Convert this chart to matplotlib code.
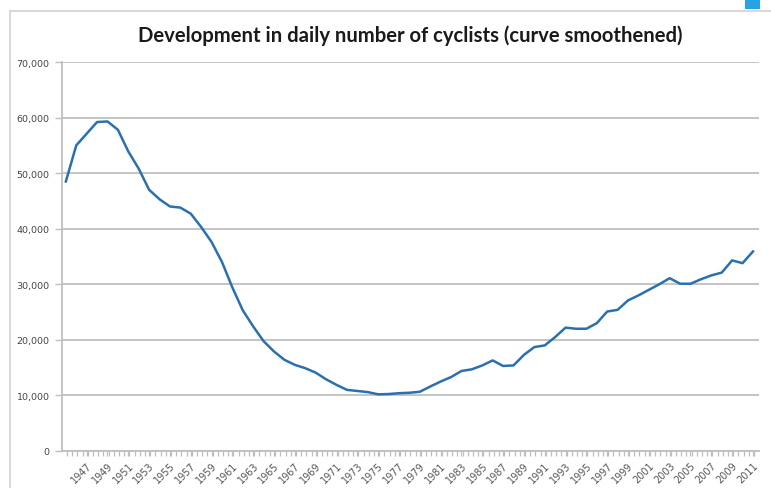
import numpy as np
import matplotlib
matplotlib.use("Agg")
import matplotlib.pyplot as plt
from matplotlib.patches import Rectangle
from matplotlib.lines import Line2D
from matplotlib.ticker import FuncFormatter, MultipleLocator

years = list(range(1945, 2012))
cyclists = [
    48500, 55000, 57100, 59200, 59300, 57800, 53900, 50800, 47000, 45300,  # 1945-1954
    44000, 43800, 42700, 40300, 37600, 34000, 29400, 25300, 22400, 19750,  # 1955-1964
    17900, 16400, 15500, 14900, 14100, 12900, 11900, 11000, 10800, 10600,  # 1965-1974
    10200, 10250, 10400, 10480, 10660, 11600, 12500, 13300, 14400, 14700,  # 1975-1984
    15400, 16300, 15300, 15400, 17300, 18700, 19000, 20500, 22200, 22000,  # 1985-1994
    22000, 23000, 25100, 25400, 27100, 28000, 29000, 30000, 31100, 30100,  # 1995-2004
    30100, 30900, 31600, 32100, 34300, 33800, 35900,                        # 2005-2011
]
label_years = list(range(1947, 2012, 2))
title = "Development in daily number of cyclists (curve smoothened)"

W, H = 771, 489
fig = plt.figure(figsize=(W / 100, H / 100), dpi=100)
fig.patch.set_facecolor("white")

# outer chart frame
frame_col = "#d6d6d6"
fig.add_artist(Line2D([10 / W, 10 / W], [0, 1 - 12 / H], transform=fig.transFigure, color=frame_col, lw=1.3))
fig.add_artist(Line2D([10 / W, 1], [1 - 12 / H, 1 - 12 / H], transform=fig.transFigure, color=frame_col, lw=1.3))
# small blue square top right
fig.add_artist(Rectangle((745 / W, 1 - 10 / H), 15 / W, 10 / H, transform=fig.transFigure,
                         color="#29a3e0", lw=0))

ax = fig.add_axes([62 / W, (H - 452) / H, 697 / W, 389 / H])
grid_col = "#bfbfbf"
ax.plot(years, cyclists, color="#2b70ae", lw=1.8, solid_joinstyle="round")

ax.set_ylim(0, 70000)
ax.set_xlim(1944.63, 2011.58)
ax.yaxis.set_major_locator(MultipleLocator(10000))
ax.yaxis.set_major_formatter(FuncFormatter(lambda v, p: f"{int(v):,}"))
ax.grid(axis="y", color=grid_col, lw=1.3)
ax.set_axisbelow(True)

ax.set_xticks(label_years)
ax.set_xticklabels([str(y) for y in label_years], rotation=45, ha="right", va="top",
                   rotation_mode="anchor", fontsize=7.0, color="#555555")
ax.set_xticks(np.arange(1945.1, 2011.6, 0.5), minor=True)
ax.tick_params(axis="x", which="both", length=3.5, width=0.9, color=grid_col, pad=3, direction="out")
ax.tick_params(axis="y", length=5, width=1.0, color=grid_col, labelsize=6.8, labelcolor="#444444", pad=4)

for s in ["top", "right"]:
    ax.spines[s].set_visible(False)
for s in ["left", "bottom"]:
    ax.spines[s].set_color(grid_col)
    ax.spines[s].set_linewidth(1.3)

fig.text(410 / W, 1 - 36 / H, title, ha="center", va="center", fontsize=14.6,
         fontweight="bold", family="Lato", color="#1a1a1a")

fig.savefig("out.png", dpi=100, facecolor="white")
